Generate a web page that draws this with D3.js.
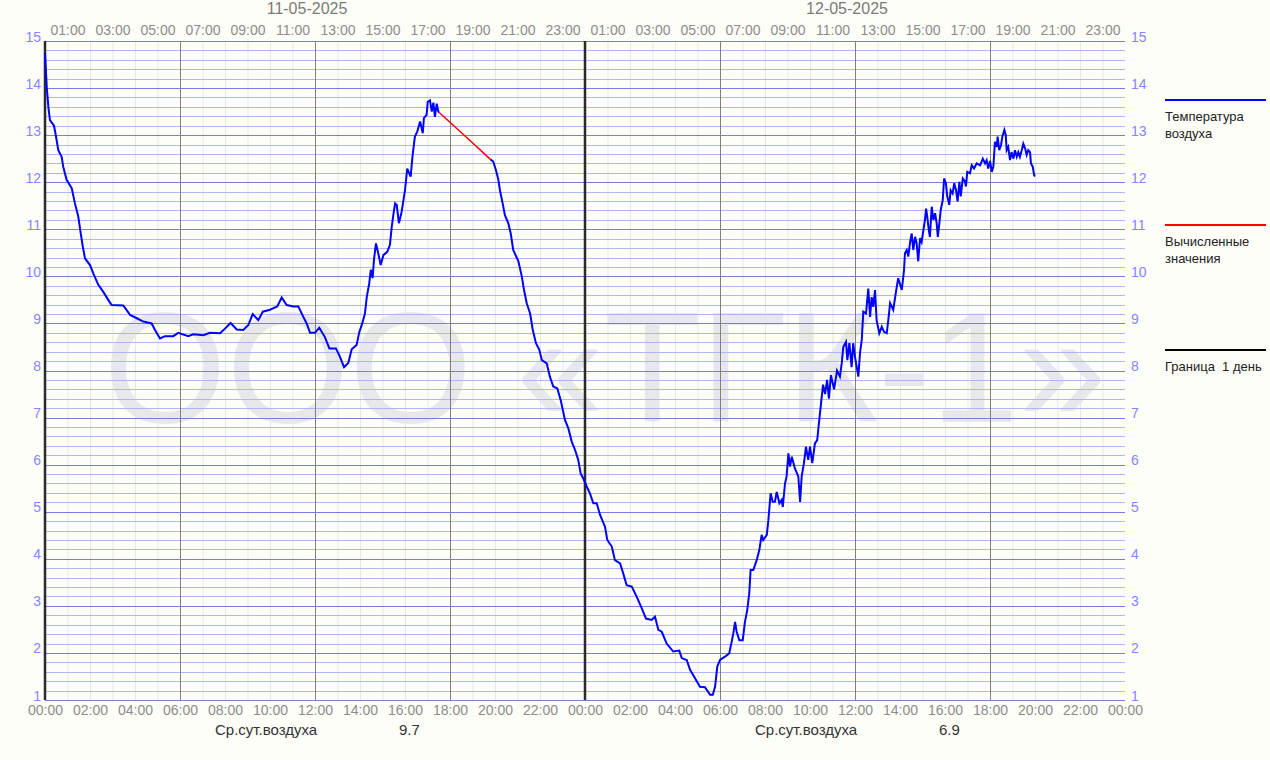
<!DOCTYPE html>
<html>
<head>
<meta charset="utf-8">
<script src="https://cdn.jsdelivr.net/npm/d3@7"></script>
<style>
  html, body { margin: 0; padding: 0; background: #fefef9; }
  svg { display: block; }
  text { font-family: "Liberation Sans", Arial, sans-serif; }
</style>
</head>
<body>
<svg id="chart" width="1270" height="760"></svg>
<script>
// ---------- DATA ----------
const dayLabels = ["11-05-2025", "12-05-2025"];
const dailyAvgLabel = "Ср.сут.воздуха";
const dailyAvgValues = ["9.7", "6.9"];
const yTickValues = [1,2,3,4,5,6,7,8,9,10,11,12,13,14,15];
const legendLabels = [["Температура", "воздуха"], ["Вычисленные", "значения"], ["Граница  1 день"]];
const watermarkText = "ООО «ТГК-1»";

// hours from 11-05-2025 00:00 ; null marks the gap filled by calculated values
const tempHours = [
  0.00,0.04,0.08,0.15,0.22,0.40,0.49,0.59,0.74,0.81,0.96,1.19,1.33,1.48,1.59,1.68,1.78,2.00,2.15,2.37,
  2.59,2.81,2.96,3.48,3.78,4.08,4.37,4.74,4.89,5.11,5.33,5.70,5.92,6.37,6.59,7.04,7.33,7.78,8.00,8.25,
  8.52,8.81,9.04,9.23,9.48,9.68,10.00,10.32,10.52,10.74,11.04,11.26,11.48,11.63,11.78,12.00,12.19,12.44,12.64,12.93,
  13.11,13.29,13.48,13.63,13.85,13.97,14.08,14.22,14.30,14.41,14.48,14.56,14.62,14.71,14.81,14.92,15.04,15.21,15.33,15.41,
  15.48,15.56,15.63,15.73,15.85,16.00,16.10,16.25,16.34,16.44,16.55,16.67,16.79,16.84,16.96,17.01,17.11,17.19,17.26,17.33,
  17.41,17.48,17.52,
  null,
  19.81,19.92,20.04,20.15,20.22,20.34,20.44,20.59,20.70,20.81,21.04,21.19,21.29,21.41,21.56,21.68,21.82,21.97,22.08,22.30,
  22.44,22.59,22.77,22.92,23.11,23.26,23.41,23.56,23.70,23.81,23.92,24.08,24.22,24.37,24.52,24.67,24.89,24.99,25.19,25.33,
  25.56,25.68,25.85,26.08,26.30,26.52,26.71,26.96,27.11,27.26,27.41,27.63,27.92,28.19,28.30,28.52,28.67,28.89,29.11,29.33,
  29.56,29.68,29.78,29.88,30.00,30.22,30.41,30.52,30.59,30.67,30.74,30.86,31.01,31.11,31.21,31.30,31.36,31.48,31.63,31.75,
  31.85,31.92,32.08,32.15,32.25,32.34,32.44,32.52,32.64,32.74,32.79,32.89,32.96,33.04,33.11,33.19,33.33,33.48,33.56,33.63,
  33.73,33.82,33.92,34.00,34.10,34.22,34.32,34.40,34.49,34.58,34.67,34.76,34.84,34.93,35.07,35.20,35.33,35.41,35.48,35.60,
  35.66,35.75,35.85,35.92,36.00,36.10,36.15,36.22,36.30,36.37,36.49,36.59,36.67,36.74,36.81,36.89,36.96,37.08,37.19,37.29,
  37.41,37.48,37.56,37.70,37.82,37.92,38.08,38.18,38.22,38.30,38.37,38.44,38.52,38.59,38.67,38.74,38.81,38.89,38.96,39.04,
  39.11,39.16,39.21,39.28,39.33,39.41,39.48,39.56,39.63,39.68,39.75,39.81,39.90,39.96,40.04,40.10,40.19,40.25,40.34,40.41,
  40.49,40.56,40.64,40.70,40.79,40.89,40.93,40.99,41.11,41.19,41.29,41.41,41.56,41.68,41.78,41.85,41.92,42.00,42.08,42.15,
  42.22,42.30,42.34,42.41,42.49,42.55,42.64,42.70,42.74,42.81,42.89,42.96,43.04,43.11,43.19,43.26,43.33,43.41,43.48,43.56,
  43.63,43.70,43.78,43.82,43.90,43.96,44.00
];
const tempValues = [
  14.74,14.38,14.00,13.60,13.32,13.20,12.97,12.68,12.54,12.33,12.05,11.87,11.55,11.27,10.91,10.63,10.38,10.24,10.06,9.82,
  9.67,9.50,9.39,9.38,9.18,9.11,9.04,9.00,8.86,8.68,8.73,8.73,8.80,8.73,8.77,8.75,8.80,8.79,8.89,9.01,
  8.87,8.86,8.97,9.20,9.07,9.25,9.29,9.36,9.55,9.39,9.36,9.36,9.14,9.00,8.80,8.80,8.91,8.71,8.47,8.47,
  8.29,8.07,8.16,8.45,8.54,8.82,8.97,9.21,9.56,9.85,10.14,9.96,10.35,10.70,10.49,10.24,10.45,10.52,10.67,11.05,
  11.30,11.55,11.52,11.13,11.37,11.83,12.29,12.12,12.58,12.97,13.08,13.29,13.04,13.36,13.43,13.71,13.74,13.50,13.69,13.39,
  13.67,13.50,13.48,
  null,
  12.48,12.44,12.26,12.05,11.83,11.55,11.30,11.13,10.91,10.56,10.32,10.00,9.71,9.43,9.21,8.86,8.58,8.44,8.22,8.15,
  7.87,7.66,7.62,7.37,6.95,6.77,6.49,6.31,6.10,5.81,5.71,5.53,5.39,5.18,5.18,4.93,4.68,4.40,4.26,3.97,
  3.90,3.72,3.44,3.41,3.19,2.95,2.73,2.70,2.77,2.49,2.45,2.20,2.03,2.05,1.89,1.85,1.64,1.46,1.28,1.27,
  1.11,1.11,1.28,1.71,1.85,1.92,1.99,2.24,2.41,2.66,2.45,2.27,2.27,2.66,2.91,3.27,3.76,3.76,3.97,4.19,
  4.51,4.40,4.51,4.82,5.39,5.21,5.21,5.42,5.18,5.25,5.10,5.60,5.75,6.24,5.96,6.17,5.92,5.75,5.21,5.75,
  6.03,6.38,6.10,6.38,6.03,6.45,6.52,6.90,7.30,7.70,7.50,7.80,7.40,7.90,7.60,8.00,7.87,8.15,8.50,8.61,
  8.22,8.58,8.07,8.58,8.29,8.01,7.87,8.36,8.65,9.25,9.21,9.74,9.14,9.56,9.35,9.71,9.07,8.79,8.93,8.82,
  8.79,9.07,9.43,9.29,9.67,9.96,9.71,10.14,10.49,10.56,10.42,10.70,10.91,10.56,10.84,10.70,10.32,10.81,10.73,10.98,
  11.20,11.44,11.27,10.98,10.84,11.48,11.20,11.34,11.13,10.84,11.13,11.41,11.62,12.08,11.98,11.70,11.52,11.83,11.76,11.98,
  11.83,11.59,12.01,11.70,12.08,12.01,11.91,12.22,12.19,12.36,12.29,12.40,12.36,12.50,12.40,12.47,12.29,12.45,12.22,12.33,
  12.86,12.75,12.97,12.68,12.79,12.97,13.11,13.00,12.68,12.75,12.47,12.64,12.50,12.68,12.54,12.64,12.54,12.68,12.82,12.72,
  12.58,12.68,12.64,12.40,12.33,12.15,12.12
];
// calculated values (red)
const calcHours = [17.52, 18.74, 19.81];
const calcValues = [13.48, 12.95, 12.48];

// ---------- LAYOUT ----------
const svg = d3.select("#chart");
const W = 1270, H = 760;
const plot = { left: 45, right: 1125, top: 41, bottom: 700 };
const x = d3.scaleLinear().domain([0, 48]).range([plot.left, plot.right]);
const y = d3.scaleLinear().domain([1, 15]).range([plot.bottom, plot.top]);
const hourFmt = h => String(h % 24).padStart(2, "0") + ":00";

svg.append("rect").attr("width", W).attr("height", H).attr("fill", "#fefef9");

// watermark
svg.append("text")
  .attr("x", 605).attr("y", 422)
  .attr("text-anchor", "middle")
  .attr("font-size", 158)
  .attr("fill", "#e8e8ec")
  .text(watermarkText);

const grid = svg.append("g");
// hourly vertical lines
grid.selectAll("line.vh").data(d3.range(1, 48).filter(h => h % 6 !== 0)).join("line")
  .attr("x1", d => x(d) + 0.5).attr("x2", d => x(d) + 0.5)
  .attr("y1", plot.top).attr("y2", plot.bottom)
  .attr("stroke", "#e6e6e6").attr("stroke-width", 1);
// minor horizontal lines
const minorY = d3.range(10, 150, 2).map(v => v / 10).filter(v => Math.abs(v - Math.round(v)) > 1e-6);
grid.selectAll("line.hm").data(minorY).join("line")
  .attr("x1", plot.left).attr("x2", plot.right)
  .attr("y1", d => Math.round(y(d)) + 0.5).attr("y2", d => Math.round(y(d)) + 0.5)
  .attr("stroke", "#b3b3f7").attr("stroke-width", 1);
// major horizontal lines
grid.selectAll("line.hM").data(yTickValues).join("line")
  .attr("x1", plot.left).attr("x2", plot.right)
  .attr("y1", d => Math.round(y(d)) + 0.5).attr("y2", d => Math.round(y(d)) + 0.5)
  .attr("stroke", "#7a7ae8").attr("stroke-width", 1);
// 6-hour vertical lines
grid.selectAll("line.v6").data([6, 12, 18, 30, 36, 42]).join("line")
  .attr("x1", d => x(d) + 0.5).attr("x2", d => x(d) + 0.5)
  .attr("y1", plot.top).attr("y2", plot.bottom)
  .attr("stroke", "#808080").attr("stroke-width", 1);
// day boundaries
grid.selectAll("line.vd").data([0, 24]).join("line")
  .attr("x1", d => x(d)).attr("x2", d => x(d))
  .attr("y1", plot.top).attr("y2", plot.bottom)
  .attr("stroke", "#2a2a2a").attr("stroke-width", 2.5);

// ---------- AXES (labels only) ----------
function styleAxis(g, color, size) {
  g.select(".domain").remove();
  g.selectAll(".tick line").remove();
  g.selectAll("text").attr("fill", color).attr("font-size", size)
    .attr("font-family", "'Liberation Sans', Arial, sans-serif");
}
svg.append("g").attr("transform", `translate(0,${plot.bottom})`)
  .call(d3.axisBottom(x).tickValues(d3.range(0, 49, 2)).tickFormat(hourFmt).tickSize(0).tickPadding(5))
  .call(g => styleAxis(g, "#8c8c8c", 14));
svg.append("g").attr("transform", `translate(0,${plot.top})`)
  .call(d3.axisTop(x).tickValues(d3.range(1, 48, 2)).tickFormat(hourFmt).tickSize(0).tickPadding(6))
  .call(g => styleAxis(g, "#8c8c8c", 14));
svg.append("g").attr("transform", `translate(${plot.left},0)`)
  .call(d3.axisLeft(y).tickValues(yTickValues).tickFormat(d3.format("d")).tickSize(0).tickPadding(4))
  .call(g => { styleAxis(g, "#8585ff", 14); g.selectAll("text").attr("dy", "0.0em"); });
svg.append("g").attr("transform", `translate(${plot.right},0)`)
  .call(d3.axisRight(y).tickValues(yTickValues).tickFormat(d3.format("d")).tickSize(0).tickPadding(6))
  .call(g => { styleAxis(g, "#8585ff", 14); g.selectAll("text").attr("dy", "0.0em"); });

// date labels
svg.selectAll("text.date").data(dayLabels).join("text")
  .attr("x", (d, i) => x(i * 24 + 12) - 8).attr("y", 14)
  .attr("text-anchor", "middle").attr("font-size", 16).attr("fill", "#7a7a7a")
  .text(d => d);

// daily averages
svg.selectAll("text.avgl").data(dailyAvgValues).join("text")
  .attr("x", (d, i) => x(i * 24) + 170).attr("y", 735)
  .attr("font-size", 15).attr("fill", "#333").text(dailyAvgLabel);
svg.selectAll("text.avgv").data(dailyAvgValues).join("text")
  .attr("x", (d, i) => x(i * 24) + 354).attr("y", 735)
  .attr("font-size", 15).attr("fill", "#333").text(d => d);

// ---------- SERIES ----------
const tempData = tempHours.map((h, i) => ({ h, v: tempValues[i] }));
const calcData = calcHours.map((h, i) => ({ h, v: calcValues[i] }));
const line = d3.line().defined(d => d.h !== null && d.v !== null).x(d => x(d.h)).y(d => y(d.v));
svg.append("path").datum(calcData).attr("d", line)
  .attr("fill", "none").attr("stroke", "#ff0000").attr("stroke-width", 1.5);
svg.append("path").datum(tempData).attr("d", line)
  .attr("fill", "none").attr("stroke", "#0000ff").attr("stroke-width", 2).attr("stroke-linejoin", "miter");

// ---------- LEGEND ----------
const legendColors = ["#0000ff", "#ff0000", "#000000"];
const legendY = [100, 225, 350];
const lg = svg.append("g");
legendLabels.forEach((lines, i) => {
  lg.append("line").attr("x1", 1165).attr("x2", 1266)
    .attr("y1", legendY[i]).attr("y2", legendY[i])
    .attr("stroke", legendColors[i]).attr("stroke-width", 2);
  lines.forEach((t, j) => {
    lg.append("text").attr("x", 1165).attr("y", legendY[i] + 21 + j * 17)
      .attr("font-size", 13).attr("fill", "#222").attr("xml:space", "preserve")
      .style("white-space", "pre").text(t);
  });
});
</script>
</body>
</html>
